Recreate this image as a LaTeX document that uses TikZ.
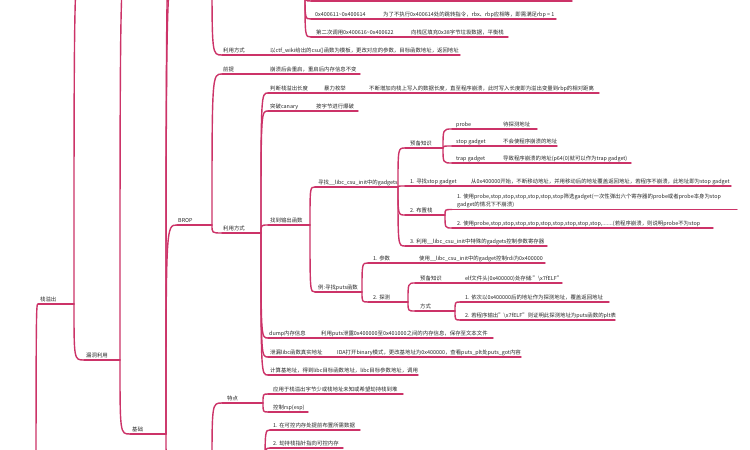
\documentclass[tikz,border=0pt]{standalone}
\usepackage{fontspec}
\setmainfont{Noto Sans CJK SC}
\definecolor{mm}{RGB}{204,51,104}
\definecolor{tx}{RGB}{40,40,40}
% #1 name, #2 x start, #3 x end, #4 underline y, #5 text x, #6 text
\newcommand\mmb[6]{%
  \coordinate (#1s) at (#2,#4);
  \coordinate (#1e) at (#3,#4);
  \draw[mline] (#1s) -- (#1e);
  \node[mtext] (#1) at (#5,#4-3) {#6};
}
\newcommand\mmh[4]{% hidden branch (off picture): name, x1, x2, y
  \coordinate (#1s) at (#2,#4);
  \coordinate (#1e) at (#3,#4);
  \draw[mline] (#1s) -- (#1e);
}
\newcommand\mmc[2]{\draw[mline] (#1e) .. controls (#1e |- #2s) .. (#2s);}
\begin{document}
\begin{tikzpicture}[x=1pt,y=-1pt,
  mline/.style={draw=mm,line width=1.4pt,line cap=round},
  mtext/.style={anchor=base west,inner sep=0pt,text=tx,font=\fontsize{5.4}{6}\selectfont}]
\useasboundingbox (0,0) rectangle (750,450);
\fill[white] (0,0) rectangle (750,450);
\clip (0,0) rectangle (750,450);

% ---- left spine
\coordinate (roote) at (36,640);
\mmb{zyc}{38}{74}{304}{40}{栈溢出}
\mmc{root}{zyc}
\coordinate (upAs) at (84,-40);
\mmc{zyc}{upA}
\mmb{ldly}{84}{120}{360}{86}{漏洞利用}
\mmc{zyc}{ldly}
\coordinate (upBs) at (130,-40);
\mmc{ldly}{upB}
\mmb{jc}{130}{166}{434}{132}{基础}
\mmc{ldly}{jc}
\coordinate (upCs) at (177,-80);
\mmc{jc}{upC}
\mmh{hx}{177}{212}{-30}
\mmc{jc}{hx}
\mmb{brop}{177}{212}{225}{178}{BROP}
\mmc{jc}{brop}
\mmh{hA}{176}{212}{470}
\mmc{jc}{hA}
\mmh{hB}{222}{265}{478}
\mmc{hA}{hB}

% ---- top (ret2csu)
\mmb{lya}{222}{265}{55}{223}{利用方式}
\mmc{hx}{lya}
\mmb{lyac}{265}{460}{55}{270}{以ctf\_wiki给出的csu()函数为模板，更改对应的参数，目标函数地址，返回地址}
\mmc{lya}{lyac}
\coordinate (hYe) at (305,-8);
\mmh{tz}{311}{572}{1}
\mmc{hY}{tz}
\mmb{ta}{311}{380}{19}{315}{0x400611\textasciitilde0x400614}
\mmc{hY}{ta}
\mmb{tab}{380}{556}{19}{383}{为了不执行0x400614处的跳转指令，rbx、rbp应相等，即需满足rbp = 1}
\mmc{ta}{tab}
\mmb{tb}{311}{408}{37}{316}{第二次调用0x400616\textasciitilde0x400622}
\mmc{hY}{tb}
\mmb{tbb}{408}{508}{37}{411}{向栈区填充0x38字节垃圾数据，平衡栈}
\mmc{tb}{tbb}

% ---- BROP
\mmb{qt}{222}{265}{74}{223}{前提}
\mmc{brop}{qt}
\mmb{qtc}{265}{360}{74}{270}{崩溃后会重启，重启后内存信息不变}
\mmc{qt}{qtc}
\mmb{lyb}{222}{261}{233}{223}{利用方式}
\mmc{brop}{lyb}

\mmb{pa}{268}{320}{93}{270}{判断栈溢出长度}
\mmc{lyb}{pa}
\mmb{pab}{320}{366}{93}{324}{暴力枚举}
\mmc{pa}{pab}
\mmb{pac}{366}{599}{93}{369}{不断增加向栈上写入的数据长度，直至程序崩溃，此时写入长度即为溢出变量到rbp的相对距离}
\mmc{pab}{pac}
\mmb{pb}{268}{312}{111}{270}{突破canary}
\mmc{lyb}{pb}
\mmb{pbb}{312}{358}{111}{316}{按字节进行爆破}
\mmc{pb}{pbb}
\mmb{pc}{268}{310}{225}{270}{找到输出函数}
\mmc{lyb}{pc}
\mmb{pd}{268}{318}{338}{269}{dump内存信息}
\mmc{lyb}{pd}
\mmb{pdb}{318}{493}{338}{321}{利用puts泄露0x400000至0x401000之间的内存信息，保存至文本文件}
\mmc{pd}{pdb}
\mmb{pe}{268}{333}{357}{270}{泄漏libc函数真实地址}
\mmc{lyb}{pe}
\mmb{peb}{333}{521}{357}{337}{IDA打开binary模式，更改基地址为0x400000，查看puts\_plt处puts\_got内容}
\mmc{pe}{peb}
\mmb{pf}{268}{418}{375}{270}{计算基地址，得到libc目标函数地址，libc目标参数地址，调用}
\mmc{lyb}{pf}

% ---- find output function
\mmb{fa}{315}{398}{187}{318}{寻找\_\_libc\_csu\_init中的gadgets}
\mmc{pc}{fa}
\mmb{fb}{315}{362}{292}{318}{例:寻找puts函数}
\mmc{pc}{fb}

\mmb{ka}{405}{443}{148}{410}{预备知识}
\mmc{fa}{ka}
\mmb{kb}{405}{466}{186}{410}{1. 寻找stop gadget}
\mmc{fa}{kb}
\mmb{kbb}{466}{731}{186}{471}{从0x400000开始，不断移动地址，并用移动后的地址覆盖返回地址，若程序不崩溃，此地址即为stop gadget}
\mmc{kb}{kbb}
\mmb{kc}{405}{445}{215}{410}{2. 布置栈}
\mmc{fa}{kc}
\mmb{kd}{405}{547}{246}{410}{3. 利用\_\_libc\_csu\_init中特殊的gadgets控制参数寄存器}
\mmc{fa}{kd}

\mmb{ga}{452}{498}{129}{456}{probe}
\mmc{ka}{ga}
\mmb{gab}{498}{537}{129}{503}{待探测地址}
\mmc{ga}{gab}
\mmb{gb}{452}{498}{146}{456}{stop gadget}
\mmc{ka}{gb}
\mmb{gbb}{498}{557}{146}{503}{不会使程序崩溃的地址}
\mmc{gb}{gbb}
\mmb{gc}{452}{498}{163}{456}{trap gadget}
\mmc{ka}{gc}
\mmb{gcb}{498}{631}{163}{503}{导致程序崩溃的地址(p64(0)就可以作为trap gadget)}
\mmc{gc}{gcb}

\mmb{sa}{452}{737}{209.5}{457}{gadget的情况下不崩溃)}
\node[mtext] (saa) at (457,198.5) {1. 使用probe,stop,stop,stop,stop,stop,stop筛选gadget(一次性弹出六个寄存器的probe或者probe本身为stop};
\mmc{kc}{sa}
\mmb{sb}{452}{713}{228}{457}{2. 使用probe,stop,stop,stop,stop,stop,stop,stop,stop,stop,.......(若程序崩溃，则说明probe不为stop}
\mmc{kc}{sb}

\mmb{ea}{368}{415}{263}{373}{1. 参数}
\mmc{fb}{ea}
\mmb{eab}{415}{545}{263}{419}{使用\_\_libc\_csu\_init中的gadget控制rdi为0x400000}
\mmc{ea}{eab}
\mmb{eb}{368}{408}{302}{373}{2. 探测}
\mmc{fb}{eb}

\mmb{da}{415}{460}{283}{420}{预备知识}
\mmc{eb}{da}
\mmb{dab}{460}{562}{283}{465}{elf文件头(0x400000)处存储:"\textbackslash x7fELF"}
\mmc{da}{dab}
\mmb{db}{415}{455}{311}{420}{方式}
\mmc{eb}{db}
\mmb{ma}{460}{609}{302}{465}{1. 依次以0x400000后的地址作为探测地址，覆盖返回地址}
\mmc{db}{ma}
\mmb{mb}{460}{615}{320}{465}{2. 若程序输出"\textbackslash x7fELF"则证明此探测地址为puts函数的plt表}
\mmc{db}{mb}

% ---- bottom
\mmb{td}{222}{263}{403}{227}{特点}
\mmc{hA}{td}
\mmb{tda}{268}{403}{394}{273}{应用于栈溢出字节少或栈地址未知或希望劫持栈到堆}
\mmc{td}{tda}
\mmb{tdb}{268}{308}{412}{273}{控制rsp(esp)}
\mmc{td}{tdb}
\mmb{ya}{270}{360}{430}{273}{1. 在可控内存处提前布置所需数据}
\mmc{hB}{ya}
\mmb{yb}{270}{343}{448}{273}{2. 劫持栈指针指向可控内存}
\mmc{hB}{yb}
\end{tikzpicture}
\end{document}
